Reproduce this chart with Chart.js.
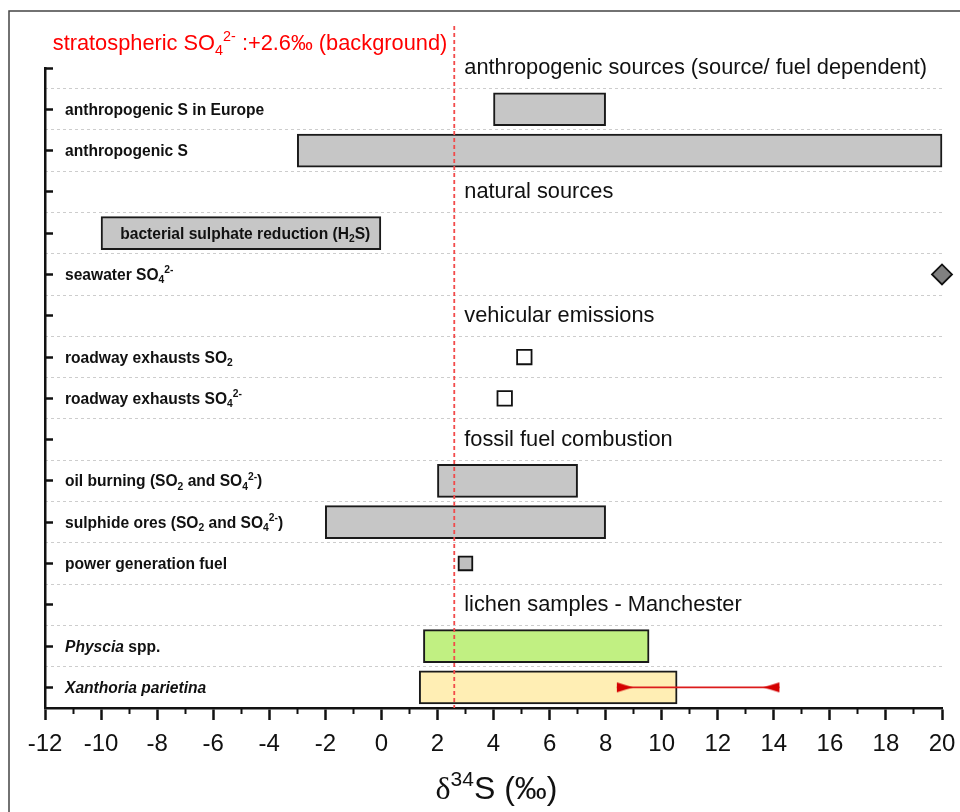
<!DOCTYPE html>
<html>
<head>
<meta charset="utf-8">
<script src="https://cdn.jsdelivr.net/npm/chart.js@4.4.1/dist/chart.umd.min.js"></script>
<style>
  html, body { margin: 0; padding: 0; background: #fff; }
  #wrap { width: 960px; height: 812px; }
</style>
</head>
<body>
<div id="wrap"><canvas id="chart" width="960" height="812"></canvas></div>
<script>
// rows, top to bottom. _{..} subscript, ^{..} superscript, *..* italic
const rowLabels = [
  "anthropogenic sources (source/ fuel dependent)",
  "anthropogenic S in Europe",
  "anthropogenic S",
  "natural sources",
  "bacterial sulphate reduction (H_{2}S)",
  "seawater SO_{4}^{2-}",
  "vehicular emissions",
  "roadway exhausts SO_{2}",
  "roadway exhausts SO_{4}^{2-}",
  "fossil fuel combustion",
  "oil burning (SO_{2} and SO_{4}^{2-})",
  "sulphide ores (SO_{2} and SO_{4}^{2-})",
  "power generation fuel",
  "lichen samples - Manchester",
  "*Physcia* spp.",
  "*Xanthoria parietina*"
];
const headingRows = [0, 3, 6, 9, 13];

// δ34S ranges (‰)
const rangeRows = [1, 2, 4, 10, 11, 14, 15];
const rangeLow  = [4, -3, -10, 2, -2, 1.5, 1.35];
const rangeHigh = [8, 20, 0, 7, 8, 9.55, 10.55];

// single values (‰)
const pointRows   = [5, 7, 8, 12];
const pointValues = [20, 5.1, 4.4, 3.0];

// Xanthoria spread marked by the red arrows
const xanthoriaRow  = 15;
const xanthoriaSpan = [8.4, 14.2];

const background = 2.6; // stratospheric SO4 2-

const xMin = -12, xMax = 20;
const xTicks = [-12, -10, -8, -6, -4, -2, 0, 2, 4, 6, 8, 10, 12, 14, 16, 18, 20];

// styles
const rangeFill   = ["#c6c6c6", "#c6c6c6", "#c6c6c6", "#c6c6c6", "#c6c6c6", "#c1f082", "#ffeeb4"];
const pointShape  = ["rectRot", "rect", "rect", "rect"];
const pointFill   = ["#808080", "#ffffff", "#ffffff", "#c0c0c0"];
const pointSize   = [10, 10.2, 10.2, 9.6];
const SANS = "Liberation Sans";

Chart.defaults.font.family = SANS;

function parseRich(src) {
  const segs = [];
  let italic = false, buf = "", i = 0;
  const flush = () => { if (buf) segs.push({ text: buf, mode: "n", italic }); buf = ""; };
  while (i < src.length) {
    const c = src[i];
    if (c === "*") { flush(); italic = !italic; i++; }
    else if ((c === "_" || c === "^") && src[i + 1] === "{") {
      flush();
      const end = src.indexOf("}", i);
      segs.push({ text: src.slice(i + 2, end), mode: c === "_" ? "sub" : "sup", italic });
      i = end + 1;
    } else { buf += c; i++; }
  }
  flush();
  return segs;
}

function layoutRich(ctx, src, o) {
  const segs = parseRich(src);
  let w = 0;
  segs.forEach(s => {
    const size = s.mode === "n" ? o.size : o.size * 0.66;
    s.font = `${s.italic ? "italic " : ""}${o.weight || "normal"} ${size}px "${o.family || SANS}"`;
    ctx.font = s.font;
    s.w = ctx.measureText(s.text).width;
    s.dy = s.mode === "sub" ? o.size * 0.22 : s.mode === "sup" ? -o.size * 0.42 : 0;
    w += s.w;
  });
  return { segs, w };
}

function drawRich(ctx, src, x, y, o) {
  const { segs, w } = layoutRich(ctx, src, o);
  let cx = o.align === "center" ? x - w / 2 : o.align === "right" ? x - w : x;
  ctx.fillStyle = o.color || "#111";
  ctx.textAlign = "left";
  ctx.textBaseline = "alphabetic";
  segs.forEach(s => {
    ctx.font = s.font;
    ctx.fillText(s.text, cx, y + s.dy);
    cx += s.w;
  });
}

function arrowHead(dir) {
  const c = document.createElement("canvas");
  c.width = 36; c.height = 12;
  const g = c.getContext("2d");
  g.fillStyle = "#d40000";
  g.beginPath();
  g.moveTo(18, 1);
  g.lineTo(18 + dir * 16, 6);
  g.lineTo(18, 11);
  g.closePath();
  g.fill();
  return c;
}

const decorations = {
  id: "decorations",
  beforeDraw(chart) {
    const ctx = chart.ctx;
    ctx.save();
    ctx.fillStyle = "#fff";
    ctx.fillRect(0, 0, chart.width, chart.height);
    ctx.strokeStyle = "#444";
    ctx.lineWidth = 1.5;
    ctx.beginPath();
    ctx.moveTo(9, chart.height);
    ctx.lineTo(9, 11);
    ctx.lineTo(chart.width, 11);
    ctx.stroke();
    ctx.restore();
  },
  afterDatasetsDraw(chart) {
    const { ctx, chartArea } = chart;
    const xs = chart.scales.x, ys = chart.scales.y;
    const lineX = xs.getPixelForValue(background);
    ctx.save();

    // background reference line
    ctx.strokeStyle = "#f24a4a";
    ctx.lineWidth = 1.8;
    ctx.setLineDash([4, 3]);
    ctx.beginPath();
    ctx.moveTo(lineX, 26);
    ctx.lineTo(lineX, chartArea.bottom);
    ctx.stroke();
    ctx.setLineDash([]);

    drawRich(ctx, `stratospheric SO_{4}^{2-} :+${background}‰ (background)`, lineX - 7, 50,
      { size: 21.8, color: "#ff0000", align: "right" });

    // row labels
    rowLabels.forEach((label, row) => {
      const y = ys.getPixelForValue(row);
      if (headingRows.includes(row)) {
        drawRich(ctx, label, lineX + 10, y + 6, { size: 21.8, color: "#111" });
        return;
      }
      const o = { size: 15.6, weight: "bold", color: "#111" };
      let x = chartArea.left + 20;
      const k = rangeRows.indexOf(row);
      if (k >= 0) {
        const b0 = xs.getPixelForValue(rangeLow[k]), b1 = xs.getPixelForValue(rangeHigh[k]);
        if (x + layoutRich(ctx, label, o).w > b0 && x < b1) {
          x = (b0 + b1) / 2 + 4;
          o.align = "center";
        }
      }
      drawRich(ctx, label, x, y + 5.5, o);
    });

    // axis title δ34S (‰)
    const cx = (chartArea.left + chartArea.right) / 2 + 3;
    const by = 799;
    ctx.textBaseline = "alphabetic";
    ctx.textAlign = "left";
    ctx.font = '32px "Liberation Serif"';
    const wd = ctx.measureText("δ").width;
    ctx.font = '21px "Liberation Sans"';
    const w34 = ctx.measureText("34").width;
    ctx.font = '32px "Liberation Sans"';
    const wS = ctx.measureText("S (‰)").width;
    let tx = cx - (wd + w34 + wS) / 2;
    ctx.fillStyle = "#111";
    ctx.font = '32px "Liberation Serif"';
    ctx.fillText("δ", tx, by); tx += wd;
    ctx.font = '21px "Liberation Sans"';
    ctx.fillText("34", tx, by - 13); tx += w34;
    ctx.font = '32px "Liberation Sans"';
    ctx.fillText("S (‰)", tx, by);
    ctx.restore();
  }
};

const yRange = { min: 0, max: rowLabels.length - 0.5, reverse: true, offset: false };

new Chart(document.getElementById("chart"), {
  data: {
    datasets: [
      {
        type: "bar",
        indexAxis: "y",
        order: 3,
        data: rangeRows.map((row, i) => ({ x: [rangeLow[i], rangeHigh[i]], y: row })),
        backgroundColor: rangeFill,
        borderColor: "#1a1a1a",
        borderWidth: 2,
        borderSkipped: false,
        barThickness: 33,
        clip: false,
        xAxisID: "x",
        yAxisID: "y"
      },
      {
        type: "scatter",
        order: 1,
        data: pointRows.map((row, i) => ({ x: pointValues[i], y: row })),
        pointStyle: pointShape,
        pointRadius: pointSize,
        backgroundColor: pointFill,
        borderColor: "#111",
        borderWidth: 1.8,
        clip: false,
        xAxisID: "x",
        yAxisID: "y"
      },
      {
        type: "line",
        order: 1,
        data: xanthoriaSpan.map(v => ({ x: v, y: xanthoriaRow })),
        borderColor: "#dc1c1c",
        borderWidth: 1.6,
        pointStyle: [arrowHead(1), arrowHead(-1)],
        pointRadius: 6,
        clip: false,
        xAxisID: "x",
        yAxisID: "y"
      }
    ]
  },
  options: {
    responsive: false,
    devicePixelRatio: 1,
    animation: false,
    events: [],
    layout: { padding: { top: 68, right: 18, left: 0, bottom: 0 } },
    plugins: { legend: { display: false }, tooltip: { enabled: false } },
    scales: {
      x: {
        type: "linear",
        position: "bottom",
        weight: 1,
        min: xMin,
        max: xMax,
        afterBuildTicks: s => { s.ticks = xTicks.map(v => ({ value: v })); },
        ticks: { color: "#111", font: { size: 24, lineHeight: 1.7 }, padding: 4, maxRotation: 0, autoSkip: false },
        grid: { drawOnChartArea: false, tickLength: 12, tickWidth: 2.5, tickColor: "#111" },
        border: { color: "#111", width: 2.5 },
        afterFit: s => { s.height = 104; }
      },
      xMinor: {
        type: "linear",
        position: "bottom",
        weight: 0,
        min: xMin,
        max: xMax,
        afterBuildTicks: s => {
          s.ticks = xTicks.slice(1).map((v, i) => ({ value: (v + xTicks[i]) / 2 }));
        },
        ticks: { display: false },
        grid: { drawOnChartArea: false, tickLength: 6, tickWidth: 2, tickColor: "#111" },
        border: { display: false },
        afterFit: s => { s.height = 0; }
      },
      y: {
        type: "linear",
        position: "left",
        ...yRange,
        afterBuildTicks: s => { s.ticks = rowLabels.map((_, i) => ({ value: i })); },
        ticks: { display: false },
        grid: { offset: false, drawOnChartArea: false, tickLength: -8, tickWidth: 2.5, tickColor: "#111" },
        border: { color: "#111", width: 2.5 },
        afterFit: s => { s.width = 45; }
      },
      yGrid: {
        type: "linear",
        position: "right",
        ...yRange,
        afterBuildTicks: s => { s.ticks = rowLabels.slice(1).map((_, i) => ({ value: i + 0.5 })); },
        ticks: { display: false },
        grid: { offset: false, drawTicks: false, color: "#cdcdcd", lineWidth: 1 },
        border: { display: false, dash: [3, 3] },
        afterFit: s => { s.width = 0; }
      }
    }
  },
  plugins: [decorations]
});
</script>
</body>
</html>
